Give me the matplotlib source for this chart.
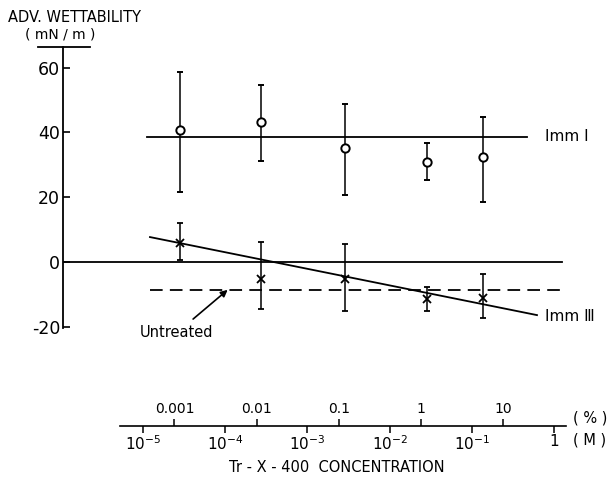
import numpy as np
import matplotlib.pyplot as plt
from matplotlib.transforms import blended_transform_factory

plt.rcParams['font.family'] = ['DejaVu Sans']

# concentrations of the measured points (M)
conc_M = [2.8e-5, 2.7e-4, 2.9e-3, 2.85e-2, 1.35e-1]

# Imm I (circles)
imm1_val = [40.8, 43.3, 35.3, 30.9, 32.3]
imm1_lo = [21.7, 31.3, 20.7, 25.2, 18.6]
imm1_hi = [58.6, 54.8, 48.7, 36.6, 44.7]

# Imm III (crosses)
imm3_val = [6.0, -5.3, -5.3, -11.5, -11.2]
imm3_lo = [0.5, -14.6, -15.0, -15.0, -17.4]
imm3_hi = [12.1, 6.3, 5.6, -7.6, -3.7]

# reference / fitted lines
imm1_level = 38.7
imm1_span = [10 ** -4.95, 10 ** -0.33]
zero_span = [10 ** -5.97, 10 ** 0.10]
untreated_level = -8.6
untreated_span = [10 ** -4.915, 10 ** 0.11]
imm3_fit_x = [10 ** -4.915, 10 ** -0.207]
imm3_fit_y = [7.7, -16.4]

# bottom scale
m_ticks = [1e-5, 1e-4, 1e-3, 1e-2, 1e-1, 1]
m_labels = ['10$^{-5}$', '10$^{-4}$', '10$^{-3}$', '10$^{-2}$', '10$^{-1}$', '1']
pct_ticks = [0.001, 0.01, 0.1, 1, 10]
pct_labels = ['0.001', '0.01', '0.1', '1', '10']
M_PER_PCT = 10 ** -1.618

W, H = 610, 483
fig = plt.figure(figsize=(W / 100, H / 100), dpi=100)


def box(x0, y0, x1, y1):
    # pixel box (top-left origin) -> figure fraction rect
    return [x0 / W, 1 - y1 / H, (x1 - x0) / W, (y1 - y0) / H]


ax = fig.add_axes(box(63, 47, 566, 330))
ax.set_xscale('log')
ax.set_xlim(10 ** -5.973, 10 ** 0.146)
ax.set_ylim(-21.0, 66.4)
for s in ['top', 'right', 'bottom']:
    ax.spines[s].set_visible(False)
ax.spines['left'].set_bounds(-20.3, 66.4)
ax.spines['left'].set_linewidth(1.3)
ax.set_xticks([])
ax.minorticks_off()
ax.set_yticks([-20, 0, 20, 40, 60])
ax.set_yticklabels(['-20', '0', '20', '40', '60'])
ax.tick_params(axis='y', direction='in', length=5, width=1.2, labelsize=12.5, pad=2)

# cap at the top of the y axis
tr = blended_transform_factory(ax.transAxes, ax.transData)
ax.plot([-25 / 503, 27 / 503], [66.4, 66.4], color='black', lw=1.3,
        transform=tr, clip_on=False)

ax.plot(imm1_span, [imm1_level, imm1_level], color='black', lw=1.3)
ax.plot(zero_span, [0, 0], color='black', lw=1.3)
ax.plot(untreated_span, [untreated_level, untreated_level], color='black',
        lw=1.3, dashes=(7, 4))
ax.plot(imm3_fit_x, imm3_fit_y, color='black', lw=1.3)

v1 = np.array(imm1_val)
ax.errorbar(conc_M, v1, yerr=[v1 - np.array(imm1_lo), np.array(imm1_hi) - v1],
            fmt='o', ms=6, mfc='white', mec='black', mew=1.4, ecolor='black',
            elinewidth=1.1, capsize=2.5, capthick=1.3, zorder=3)
v3 = np.array(imm3_val)
ax.errorbar(conc_M, v3, yerr=[v3 - np.array(imm3_lo), np.array(imm3_hi) - v3],
            fmt='x', ms=6, mec='black', mew=1.3, ecolor='black',
            elinewidth=1.1, capsize=2.5, capthick=1.3, zorder=3)

ax.text(10 ** -0.11, imm1_level, 'Imm Ⅰ', fontsize=11, ha='left', va='center')
ax.text(10 ** -0.11, -16.8, 'Imm Ⅲ', fontsize=11, ha='left', va='center')
ax.annotate('Untreated', xy=(10 ** -3.97, untreated_level),
            xytext=(10 ** -4.59, -21.9), fontsize=10.5, ha='center', va='center',
            annotation_clip=False,
            arrowprops=dict(arrowstyle='-|>', color='black', lw=1.2,
                            shrinkA=4, shrinkB=0, mutation_scale=10))

fig.text(8 / W, 1 - 17 / H, 'ADV. WETTABILITY', fontsize=10.5, ha='left', va='center')
fig.text(60 / W, 1 - 34 / H, '( mN / m )', fontsize=10, ha='center', va='center')

# bottom concentration axis
bx = fig.add_axes(box(120, 425.9, 566, 426))
bx.set_xscale('log')
bx.set_xlim(10 ** -5.28, 10 ** 0.146)
bx.set_yticks([])
for s in ['top', 'left', 'right']:
    bx.spines[s].set_visible(False)
bx.spines['bottom'].set_linewidth(1.2)
bx.set_xticks(m_ticks)
bx.set_xticklabels(m_labels)
bx.minorticks_off()
bx.tick_params(axis='x', direction='out', length=5, width=1.1, labelsize=11, pad=1)

sx = bx.secondary_xaxis('top', functions=(lambda m: m / M_PER_PCT,
                                          lambda p: p * M_PER_PCT))
sx.set_xticks(pct_ticks)
sx.set_xticklabels(pct_labels)
sx.minorticks_off()
sx.spines['top'].set_visible(False)
sx.tick_params(axis='x', direction='out', length=5, width=1.1, labelsize=10, pad=2)

fig.text(573 / W, 1 - 418 / H, '( % )', fontsize=10.5, ha='left', va='center')
fig.text(573 / W, 1 - 440 / H, '( M )', fontsize=10.5, ha='left', va='center')
fig.text(337 / W, 1 - 467 / H, 'Tr - X - 400  CONCENTRATION', fontsize=10.5,
         ha='center', va='center')

fig.savefig('out.png', dpi=100)
